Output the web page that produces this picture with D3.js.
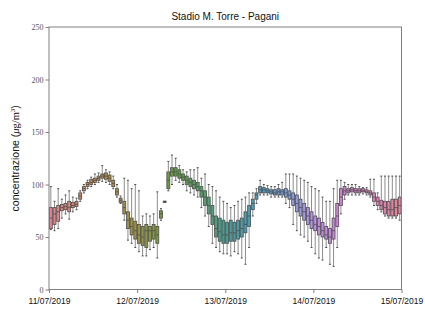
<!DOCTYPE html>
<html>
<head>
<meta charset="utf-8">
<script src="https://cdn.jsdelivr.net/npm/d3@7"></script>
<style>
  body { margin: 0; background: #fff; }
  svg { display: block; }
</style>
</head>
<body>
<svg width="425" height="311"></svg>
<script>
// hourly boxes, 11/07/2019 00:00 -> 14/07/2019 23:00
// each entry: [whisker low, q1, median, q3, whisker high]
const boxes = [
  [57, 58, 68, 78, 98], [56, 62, 72, 78, 84], [58, 65, 74, 80, 96], [68, 75, 78, 81, 86],
  [72, 76, 79, 82, 90], [67, 74, 78, 84, 94], [74, 78, 80, 83, 88], [76, 79, 81, 84, 87],
  [84, 86, 89, 92, 94], [92, 94, 96, 98, 100], [96, 98, 100, 102, 104], [98, 100, 102, 105, 107],
  [100, 102, 104, 106, 110], [102, 104, 106, 108, 111], [103, 106, 108, 110, 118], [102, 105, 108, 111, 114],
  [100, 103, 106, 109, 112], [96, 98, 101, 104, 108], [88, 90, 93, 96, 100], [82, 83, 85, 87, 89],
  [66, 72, 78, 84, 106], [47, 58, 66, 74, 104], [44, 52, 60, 68, 96], [40, 48, 56, 65, 100],
  [36, 44, 52, 62, 94], [32, 42, 50, 60, 70], [32, 40, 56, 62, 72], [38, 46, 56, 60, 70],
  [40, 48, 56, 62, 72], [30, 44, 52, 60, 93], [66, 68, 72, 75, 77], [83, 83, 84, 84, 84],
  [94, 96, 104, 112, 122], [100, 108, 112, 116, 128], [104, 108, 112, 116, 125], [102, 106, 110, 114, 118],
  [100, 104, 107, 110, 114], [94, 100, 104, 108, 112], [92, 98, 102, 106, 114], [90, 96, 100, 104, 114],
  [88, 94, 98, 102, 116], [78, 88, 94, 98, 106], [70, 80, 88, 94, 110], [60, 72, 80, 88, 100],
  [44, 62, 70, 80, 98], [40, 50, 58, 70, 94], [36, 46, 55, 68, 88], [34, 44, 52, 66, 84],
  [34, 44, 52, 64, 82], [32, 46, 54, 66, 78], [36, 46, 54, 64, 80], [34, 48, 56, 66, 84],
  [30, 50, 58, 68, 86], [24, 54, 62, 74, 88], [40, 60, 70, 80, 92], [70, 76, 82, 86, 92],
  [82, 86, 90, 92, 96], [90, 92, 95, 98, 104], [90, 92, 95, 97, 100], [90, 92, 94, 96, 99],
  [88, 91, 93, 95, 98], [88, 90, 92, 95, 98], [88, 90, 93, 96, 100], [88, 90, 93, 95, 102],
  [82, 88, 92, 96, 110], [78, 86, 90, 94, 110], [62, 80, 86, 92, 110], [56, 74, 82, 90, 108],
  [52, 70, 78, 86, 106], [50, 66, 74, 82, 104], [46, 62, 70, 78, 102], [40, 58, 66, 74, 98],
  [34, 56, 62, 70, 96], [30, 52, 60, 68, 94], [28, 50, 56, 64, 88], [40, 48, 52, 60, 84],
  [24, 44, 50, 58, 84], [22, 48, 56, 68, 96], [40, 60, 70, 82, 104], [72, 80, 88, 96, 104],
  [86, 90, 94, 98, 102], [90, 92, 94, 96, 100], [90, 93, 95, 97, 100], [90, 92, 94, 96, 100],
  [90, 92, 94, 96, 98], [91, 93, 94, 96, 97], [90, 92, 93, 95, 97], [88, 90, 92, 94, 105],
  [80, 84, 88, 92, 105], [76, 80, 84, 88, 92], [74, 76, 80, 85, 108], [70, 72, 78, 84, 108],
  [68, 70, 76, 84, 108], [68, 70, 76, 86, 108], [68, 70, 78, 86, 108], [66, 72, 80, 88, 108]
];
const dayLabels = ["11/07/2019", "12/07/2019", "13/07/2019", "14/07/2019", "15/07/2019"];
const yTicks = [0, 50, 100, 150, 200, 250];
const paletteStops = ["#f77189", "#d58c32", "#a4a031", "#50b131", "#36ada4", "#3ba3ec", "#bb83f4", "#f564d4"];

const svg = d3.select("svg");
const m = {left: 49, right: 23.5, top: 27, bottom: 21.5};
const W = 425, H = 311;

const x = d3.scaleLinear().domain([0, boxes.length]).range([m.left, W - m.right]);
const y = d3.scaleLinear().domain([0, 250]).range([H - m.bottom, m.top]);

const pal = d3.piecewise(d3.interpolateRgb, paletteStops.concat([paletteStops[0]]));
function boxColor(i) {
  const c = d3.hsl(pal(i / boxes.length));
  c.s *= 0.75;
  return c.formatHex();
}

const edge = "#4d4d4d";
const whisk = "#8c8c8c";
const bw = (x(1) - x(0)) * 0.8;

const g = svg.append("g");
const b = g.selectAll("g.box").data(boxes).join("g").attr("class", "box");

// whiskers
b.append("line")
  .attr("x1", (d, i) => x(i + 0.5)).attr("x2", (d, i) => x(i + 0.5))
  .attr("y1", d => y(d[0])).attr("y2", d => y(d[1]))
  .attr("stroke", whisk).attr("stroke-width", 1);
b.append("line")
  .attr("x1", (d, i) => x(i + 0.5)).attr("x2", (d, i) => x(i + 0.5))
  .attr("y1", d => y(d[3])).attr("y2", d => y(d[4]))
  .attr("stroke", whisk).attr("stroke-width", 1);
// caps
[0, 4].forEach(k => {
  b.append("line")
    .attr("x1", (d, i) => x(i + 0.5) - bw / 3).attr("x2", (d, i) => x(i + 0.5) + bw / 3)
    .attr("y1", d => y(d[k])).attr("y2", d => y(d[k]))
    .attr("stroke", edge).attr("stroke-width", 1);
});
// box
b.append("rect")
  .attr("x", (d, i) => x(i + 0.5) - bw / 2)
  .attr("width", bw)
  .attr("y", d => y(d[3]))
  .attr("height", d => Math.max(0.5, y(d[1]) - y(d[3])))
  .attr("fill", (d, i) => boxColor(i))
  .attr("stroke", edge).attr("stroke-width", 0.8);
// median
b.append("line")
  .attr("x1", (d, i) => x(i + 0.5) - bw / 2).attr("x2", (d, i) => x(i + 0.5) + bw / 2)
  .attr("y1", d => y(d[2])).attr("y2", d => y(d[2]))
  .attr("stroke", edge).attr("stroke-width", 0.8);

// frame
svg.append("rect")
  .attr("x", m.left).attr("y", m.top)
  .attr("width", W - m.right - m.left).attr("height", H - m.bottom - m.top)
  .attr("fill", "none").attr("stroke", "#808080").attr("stroke-width", 1);

// y axis
const yAxis = svg.append("g")
  .attr("transform", `translate(${m.left},0)`)
  .call(d3.axisLeft(y).tickValues(yTicks).tickSize(3.5).tickPadding(2));
yAxis.select(".domain").remove();
yAxis.selectAll("line").attr("stroke", "#808080");
yAxis.selectAll("text")
  .attr("font-family", "'Liberation Serif', 'DejaVu Serif', serif")
  .attr("font-size", 8).attr("fill", "#555");

// x axis
const xAxis = svg.append("g")
  .attr("transform", `translate(0,${H - m.bottom})`)
  .call(d3.axisBottom(x).tickValues(dayLabels.map((d, i) => i * 24))
    .tickFormat((d, i) => dayLabels[i]).tickSize(3.5).tickPadding(4.5));
xAxis.select(".domain").remove();
xAxis.selectAll("line").attr("stroke", "#808080");
xAxis.selectAll("text")
  .attr("font-family", "'Liberation Sans', Arial, sans-serif")
  .attr("font-size", 8.5).attr("fill", "#111");

// title
svg.append("text")
  .attr("x", (m.left + W - m.right) / 2).attr("y", 20)
  .attr("text-anchor", "middle")
  .attr("font-family", "'Liberation Sans', Arial, sans-serif")
  .attr("font-size", 10).attr("fill", "#111")
  .text("Stadio M. Torre - Pagani");

// y label
const yl = svg.append("text")
  .attr("transform", `translate(19,${(m.top + H - m.bottom) / 2}) rotate(-90)`)
  .attr("text-anchor", "middle")
  .attr("font-family", "'Liberation Sans', Arial, sans-serif")
  .attr("font-size", 10.5).attr("fill", "#111");
yl.append("tspan").text("concentrazione (");
yl.append("tspan").attr("font-family", "'Liberation Serif', serif").attr("font-style", "italic").text("μ");
yl.append("tspan").attr("font-family", "'Liberation Serif', serif").text("g/m");
yl.append("tspan").attr("font-family", "'Liberation Serif', serif").attr("font-size", 7).attr("dy", -4).text("3");
yl.append("tspan").attr("dy", 4).text(")");
</script>
</body>
</html>
